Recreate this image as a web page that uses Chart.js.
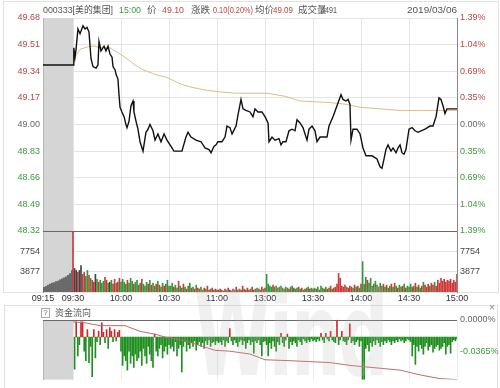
<!DOCTYPE html>
<html><head><meta charset="utf-8">
<script src="https://cdn.jsdelivr.net/npm/chart.js@4/dist/chart.umd.min.js"></script>
<style>
body{margin:0;width:500px;height:388px;background:#fff;overflow:hidden;position:relative;font-family:"Noto Sans CJK SC","Noto Sans",sans-serif;}
canvas{position:absolute;left:0;}
#c1{top:0;}
#c2{top:300px;}
.fr{position:absolute;border:1px solid #e2e2e2;box-sizing:border-box;pointer-events:none;}
.h{position:absolute;top:4px;font-size:9.5px;line-height:12px;white-space:nowrap;color:#555;font-family:"Liberation Sans","Noto Sans CJK SC",sans-serif;transform-origin:0 50%;}
.red{color:#b8473f;}
.grn{color:#3e9a3e;}
#wm{position:absolute;left:194px;top:270px;font-family:"DejaVu Sans",sans-serif;font-weight:bold;font-size:116px;line-height:130px;color:rgba(180,180,180,0.2);transform-origin:0 0;transform:scaleX(0.6);pointer-events:none;letter-spacing:-3px;}
#q{position:absolute;left:41px;top:308px;width:7px;height:8px;border:1px solid #aaa;font-size:8px;line-height:8px;text-align:center;color:#666;font-family:"Liberation Sans",sans-serif;}
#ql{position:absolute;left:55px;top:307px;font-size:9px;line-height:12px;color:#555;}
#cl{position:absolute;left:489px;top:302px;font-size:10px;line-height:12px;color:#888;font-family:"Liberation Sans",sans-serif;}
</style></head>
<body>
<div class="fr" style="left:3px;top:1px;width:496px;height:292px"></div>
<div class="fr" style="left:4px;top:305px;width:494px;height:84px"></div>
<canvas id="c1" width="500" height="305"></canvas>
<canvas id="c2" width="500" height="88"></canvas>
<div id="wm">Wind</div>
<div class="h" style="left:43px" data-w="70">000333[美的集团]</div>
<div class="h grn" style="left:119px" data-w="22">15:00</div>
<div class="h" style="left:147px">价</div>
<div class="h red" style="left:162px" data-w="22">49.10</div>
<div class="h" style="left:191px">涨跌</div>
<div class="h red" style="left:213px" data-w="40">0.10(0.20%)</div>
<div class="h" style="left:255px">均价</div>
<div class="h red" style="left:273px" data-w="20">49.09</div>
<div class="h" style="left:298px">成交量</div>
<div class="h" style="left:321px" data-w="16">4491</div>
<div class="h" style="left:407px" data-w="50">2019/03/06</div>
<div id="q">?</div>
<div id="ql">资金流向</div>
<div id="cl">×</div>
<script>
// ---------- data ----------
const PREV_CLOSE = 49.00;
const timeTicks  = [-18.75, 0, 30, 60, 90, 120, 150, 180, 210, 240]; // minutes from 09:30 (pre-market compressed)
const timeLabels = ['09:15','09:30','10:00','10:30','11:00','13:00','13:30','14:00','14:30','15:00'];
const priceTicks = [48.32, 48.49, 48.66, 48.83, 49.00, 49.17, 49.34, 49.51, 49.68];
const volTicks   = [3877, 7754];
const VOL_MAX    = 11631;
const flowTicks  = [0, -0.0365];

// price (minute, price)
const pricePoints = [[-18.75,49.38],[0,49.38],[0.5,49.49],[1.25,49.43],[1.9,49.48],[3.1,49.61],[4.4,49.58],[6.25,49.63],[7.5,49.61],[8.75,49.62],[10,49.59],[11.25,49.42],[12.5,49.37],[14.4,49.36],[15.6,49.38],[16.25,49.53],[17.5,49.47],[19.4,49.5],[20.6,49.47],[21.9,49.5],[23.1,49.45],[24.4,49.43],[25,49.37],[26.25,49.35],[26.9,49.32],[28.1,49.29],[28.75,49.19],[29.4,49.11],[30.6,49.08],[31.9,49.05],[33.1,49.0],[33.75,48.98],[35,49.02],[36.25,49.12],[37.5,49.15],[38.1,49.08],[39.4,49.02],[40.6,48.97],[41.9,48.89],[43.75,48.83],[45.6,48.95],[46.9,48.97],[48.1,49.0],[50,48.96],[51.25,48.9],[53.1,48.94],[55,48.89],[56.9,48.94],[58.75,48.9],[61.25,48.86],[63.1,48.83],[64.4,48.83],[68.1,48.83],[70.6,48.92],[71.9,48.95],[73.75,48.92],[76.9,48.9],[80,48.89],[82.5,48.85],[85,48.84],[86.25,48.82],[88.1,48.86],[89.4,48.87],[90.6,48.89],[93.1,48.89],[95,48.92],[96.25,48.99],[98.1,48.98],[99.4,48.94],[101.9,48.99],[103.1,49.06],[105,49.16],[106.25,49.1],[108.1,49.09],[110.6,49.08],[112.5,49.05],[113.75,49.1],[115.6,49.08],[118.1,49.08],[120,49.05],[121.9,49.01],[122.5,48.89],[124.4,48.92],[126.25,48.9],[128.75,48.91],[130,48.87],[131.25,48.89],[133.1,48.89],[135,48.96],[136.9,48.97],[138.75,48.96],[140,49.03],[141.9,49.01],[143.75,48.98],[146.25,48.9],[147.5,48.97],[149.4,48.99],[151.25,48.96],[152.5,48.89],[154.4,48.92],[156.25,48.92],[158.75,48.92],[160,48.99],[162.5,49.05],[165,49.12],[167.5,49.19],[168.75,49.16],[170.6,49.15],[171.9,49.16],[173.1,49.13],[173.75,48.9],[175,48.97],[177.5,48.97],[179.4,48.94],[181.25,48.85],[183.1,48.8],[186.9,48.8],[190,48.78],[191.9,48.73],[193.1,48.72],[194.4,48.78],[195.6,48.84],[196.9,48.87],[198.75,48.83],[200,48.85],[201.9,48.82],[203.1,48.85],[204.4,48.87],[205.6,48.82],[206.9,48.81],[208.1,48.84],[210,48.97],[211.9,48.98],[213.75,48.96],[215.6,48.95],[217.5,48.96],[220,48.97],[223.1,48.99],[225,48.99],[226.9,49.05],[228.75,49.17],[230,49.16],[231.25,49.12],[232.5,49.07],[233.75,49.1],[235.6,49.1],[238.75,49.1],[240,49.1]];

// average price (minute, price)
const avgPoints = [[0,49.38],[1.9,49.44],[4.4,49.48],[7.5,49.49],[10.6,49.5],[13.75,49.5],[16.9,49.49],[20,49.49],[23.1,49.49],[26.25,49.47],[29.4,49.45],[33.75,49.42],[38.75,49.38],[43.75,49.35],[51.25,49.32],[58.75,49.3],[66.9,49.26],[73.1,49.24],[82.5,49.22],[90,49.21],[101.25,49.2],[110.6,49.2],[121.25,49.2],[132.5,49.18],[141.9,49.15],[160.6,49.14],[170,49.13],[179.4,49.11],[191.9,49.1],[204.4,49.09],[216.9,49.09],[229.4,49.09],[240,49.09]];

// pre-market volume 09:15-09:29
const preVolumes = [900,1100,1300,1500,1700,1800,2000,2100,2300,2500,2700,2900,3200,3500,4100];
const OPEN_VOL = 11631; // off scale opening auction
// per-minute volumes 09:31 .. 15:00
const volumes = [
 4490,4110,3740,4110,5050,3370,3740,2990,4110,3180,2620,2240,1870,3370,2430,1870,2240,1680,2060,2800,2240,1680,1870,2240,1500,2430,1680,1870,2620,1870,
 2430,1870,1500,2240,1680,2620,2060,1500,1870,2240,1310,1680,2430,1500,1120,1870,1500,2240,1310,1680,1120,1500,2060,1310,940,1680,1120,1500,2240,1120,
 1120,1680,940,1310,750,2060,1120,750,1500,940,560,1120,1680,750,940,560,1310,750,560,940,370,750,560,1120,370,560,750,370,560,370,
 370,560,370,190,560,370,750,370,190,560,370,940,370,560,370,1120,560,370,750,370,560,940,370,560,750,560,370,940,560,750,
 3370,1500,1120,940,1310,940,1120,750,940,1120,750,560,940,750,560,940,1120,750,560,750,940,560,750,370,560,750,940,560,750,560,
 750,560,940,370,1120,750,560,940,560,750,1120,560,750,940,1500,3550,2620,1120,940,1310,940,750,1120,940,750,1310,940,1120,750,1500,
 5800,1500,2800,2240,1680,2620,1120,1500,2060,1310,940,1680,1120,1500,940,1310,750,1120,1500,940,1680,1120,750,1310,940,1120,1500,750,1120,940,
 1500,940,1120,1680,940,1310,750,1120,1870,1310,940,1500,1120,1680,1310,1870,1120,2240,1680,2620,2060,2430,1870,2240,2060,2430,1680,2240,1870,3370];
const volDirs =
 'kkrkkrrggrgrrkgrgggrrgkgrrgrrg' +
 'gggrgggrggrgrgggrgrggrgrggrrgg' +
 'ggrggrggrgrggrgrgrrggrgrrgrgrr' +
 'rrgrrgrkrrgrrgrrgrrrgrrggrrrgr' +
 'ggggrgggrgggrgrggrggrgrgrggrgr' +
 'gggrggrgrgrgrrrrrrrrgrrrgrgrgr' +
 'gggrgggrggrggrgrggrgrgrggrgrgg' +
 'grgrgrgrgrrrgrrgrrrrrrrrrrrrrr';

// fund-flow bars per minute (relative units, + inflow / - outflow)
const flowBars = [
 -34,16,-20,-8,16,16,-15,-25,8,-27,-10,-42,8,-22,-5,6,-8,15,5,-6,8,-12,10,6,-5,8,-4,5,7,-15,
 -30,-20,-25,-35,-15,-28,-20,-32,-18,-25,-22,-15,-30,-12,-20,-28,-10,-18,-25,-32,3,-15,-20,-12,-8,-22,-15,-10,-18,-8,
 -12,-10,-15,-5,-20,-12,-8,-37,-10,-5,-15,-8,-12,-6,-10,-4,-14,-8,-5,-10,-6,-12,-4,-8,-3,-10,-6,-5,-8,-4,
 -6,-5,-8,-3,-10,-4,-6,9,-4,-8,-3,-6,-10,-5,-3,-8,-4,-12,-6,-3,-8,-5,-17,-4,-6,-3,-8,-20,-5,-4,
 -8,-20,-6,-12,-4,-10,-15,-5,-8,4,-6,-10,-3,3,-12,-5,-8,-4,-6,-10,-3,-5,-8,-2,-4,-6,-3,-5,-2,-4,
 -3,-5,-2,-4,4,-3,-6,4,-2,-4,6,-3,-5,-6,18,-8,-3,6,-4,-5,-8,-3,14,-6,-4,-8,-5,-3,-10,-4,
 -48,-48,-12,-8,-15,-6,-10,-4,-8,-3,-6,-10,-5,-8,-4,-6,-3,-5,-8,-4,-6,-3,-5,-2,-4,-3,-6,-4,-2,-3,
 -5,-20,-8,-29,-10,-15,-8,-12,-18,-10,-6,-14,-10,-8,-16,-12,-10,-8,-14,-12,-10,-6,-18,-10,-8,-17,-5,-3,-4,-2];
// cumulative fund flow (%)
const flowLinePoints = [[0,-0.0022],[7.5,-0.0033],[16.9,-0.0066],[26.25,-0.0066],[32.5,-0.0066],[41.9,-0.0133],[51.25,-0.0166],[57.5,-0.0199],[70,-0.0243],[79.4,-0.0299],[88.75,-0.0354],[98.1,-0.0365],[110.6,-0.0398],[120,-0.0465],[135.6,-0.0476],[148.1,-0.0487],[160.6,-0.0498],[173.1,-0.0531],[185.6,-0.0553],[204.4,-0.0586],[216.9,-0.0642],[229.4,-0.0686],[240,-0.0697]];
const FLOW_MIN = -0.0697, FLOW_MAX = 0;
const FLOW_BAR_MIN = -45, FLOW_BAR_MAX = 18;

// ---------- header fitting ----------
document.querySelectorAll('.h[data-w]').forEach(el=>{
  const w = el.getBoundingClientRect().width, t = +el.dataset.w;
  if (w > 0) el.style.transform = 'scaleX(' + (t/w) + ')';
});

// ---------- helpers ----------
const X_MIN = timeTicks[0], X_MAX = timeTicks[timeTicks.length-1];
const PRE_STEP = (0 - X_MIN) / preVolumes.length;
const COL = {r:'#d0393b', g:'#2f9a36', k:'#444'};
const RED_T = '#b8473f', GRN_T = '#3e9a3e', GRY_T = '#666';
const priceCol = v => Math.abs(v-PREV_CLOSE) < 1e-6 ? GRY_T : (v > PREV_CLOSE ? RED_T : GRN_T);
const FONT = {family:'"Liberation Sans", Arial, sans-serif', size:9};

const volData = [], volColors = [];
preVolumes.forEach((v,i)=>{ volData.push({x: X_MIN + PRE_STEP*(i+0.5), y: v}); volColors.push('#555'); });
volData.push({x:0, y:OPEN_VOL}); volColors.push('#d0393b');
volumes.forEach((v,i)=>{ volData.push({x:i+1, y:v}); volColors.push(COL[volDirs[i]]); });

const fixW = w => (s)=>{ s.width = w; };
const setTicks = arr => (s)=>{ s.ticks = arr.map(v=>({value:v})); };

const makeBg = lineFn => ({
  id:'bgpanel',
  beforeDatasetsDraw(chart){
    const {ctx, chartArea:a, scales} = chart;
    const x0 = scales.x.getPixelForValue(0);
    ctx.save();
    ctx.fillStyle = '#d5d5d5';
    ctx.fillRect(a.left+0.5, a.top, x0 - a.left - 0.5, a.bottom - a.top);
    ctx.strokeStyle = '#6a6a6a'; ctx.lineWidth = 1;
    const yb = lineFn(chart);
    ctx.beginPath(); ctx.moveTo(a.left, Math.round(yb)+0.5); ctx.lineTo(a.right, Math.round(yb)+0.5); ctx.stroke();
    ctx.restore();
  }
});

const xAxis = (extra) => Object.assign({type:'linear', min:X_MIN, max:X_MAX, offset:false, afterBuildTicks:setTicks(timeTicks),
  grid:{color:'#e4e4e4', drawTicks:false, offset:false}, border:{display:false}}, extra);

// ---------- main chart ----------
new Chart(document.getElementById('c1'), {
  type:'line',
  data:{datasets:[
    {type:'line', yAxisID:'yP', data: pricePoints.map(([x,y])=>({x,y})), borderColor:'#111', borderWidth:1.4, pointRadius:0, order:1},
    {type:'line', yAxisID:'yP', data: avgPoints.map(([x,y])=>({x,y})), borderColor:'#e0bc88', borderWidth:1, pointRadius:0, order:2},
    {type:'scatter', yAxisID:'yV', data:[{x:0,y:OPEN_VOL}], pointStyle:'circle', pointRadius:1.6, backgroundColor:'#d0393b', borderWidth:0, order:0},
    {type:'bar', yAxisID:'yV', data: volData, backgroundColor: volColors, barThickness:1, order:3}
  ]},
  options:{
    responsive:false, animation:false, events:[],
    layout:{padding:{top:18,left:0,right:0,bottom:0}},
    plugins:{legend:{display:false}, tooltip:{enabled:false}},
    scales:{
      x: xAxis({ticks:{callback:(v,i)=>timeLabels[i], font:FONT, color:'#333', maxRotation:0, autoSkip:false, padding:1},
                afterFit:(s)=>{s.height=13;}}),
      yV:{type:'linear', position:'left', stack:'L', stackWeight:61, min:0, max:VOL_MAX,
          afterBuildTicks:setTicks(volTicks),
          ticks:{callback:v=>String(v), color:'#444', font:FONT, padding:3},
          grid:{color:'#e4e4e4', drawTicks:false}, border:{color:'#999'}, afterFit:fixW(43)},
      yP:{type:'linear', position:'left', stack:'L', stackWeight:213, min:priceTicks[0], max:priceTicks[priceTicks.length-1],
          afterBuildTicks:setTicks(priceTicks),
          ticks:{callback:v=>v.toFixed(2), color:c=>priceCol(c.tick.value), font:FONT, padding:3},
          grid:{color:'#e4e4e4', drawTicks:false}, border:{color:'#999'}, afterFit:fixW(43)},
      yR:{type:'linear', position:'right', stack:'R', stackWeight:213, min:priceTicks[0], max:priceTicks[priceTicks.length-1],
          afterBuildTicks:setTicks(priceTicks),
          ticks:{callback:v=>(Math.abs(v-PREV_CLOSE)/PREV_CLOSE*100).toFixed(2)+'%', color:c=>priceCol(c.tick.value), font:FONT, padding:3},
          grid:{display:false, drawTicks:false}, border:{color:'#888'}, afterFit:fixW(43)},
      yVR:{type:'linear', position:'right', stack:'R', stackWeight:61, min:0, max:VOL_MAX,
          afterBuildTicks:setTicks(volTicks),
          ticks:{callback:v=>String(v), color:'#444', font:FONT, padding:3},
          grid:{display:false, drawTicks:false}, border:{color:'#888'}, afterFit:fixW(43)}
    }
  },
  plugins:[makeBg(c=>c.scales.yP.bottom)]
});

// ---------- fund-flow chart ----------
const flowData = flowBars.map((v,i)=>({x:i+1, y:v}));
const flowColors = flowBars.map(v => v >= 0 ? '#d0262a' : '#1f8f1f');
new Chart(document.getElementById('c2'), {
  type:'bar',
  data:{datasets:[
    {type:'line', yAxisID:'yL', data: flowLinePoints.map(([x,y])=>({x,y})), borderColor:'#c46a6a', borderWidth:1, pointRadius:0, order:0},
    {type:'bar', yAxisID:'yB', data: flowData, backgroundColor: flowColors, barThickness:1, order:1}
  ]},
  options:{
    responsive:false, animation:false, events:[],
    layout:{padding:{top:20,left:0,right:0,bottom:5}},
    plugins:{legend:{display:false}, tooltip:{enabled:false}},
    scales:{
      x: xAxis({ticks:{display:false}, grid:{color:'#ebebeb', drawTicks:false, offset:false}, afterFit:(s)=>{s.height=0;}}),
      yB:{type:'linear', position:'left', min:FLOW_BAR_MIN, max:FLOW_BAR_MAX,
          ticks:{display:false}, grid:{display:false, drawTicks:false}, border:{color:'#999'}, afterFit:fixW(43)},
      yL:{type:'linear', position:'right', min:FLOW_MIN, max:FLOW_MAX, afterBuildTicks:setTicks(flowTicks),
          ticks:{callback:v=>v.toFixed(4)+'%', color:c=>c.tick.value<0?GRN_T:GRY_T, font:FONT, padding:3},
          grid:{display:false, drawTicks:false}, border:{display:false}, afterFit:fixW(43)}
    }
  },
  plugins:[makeBg(c=>c.chartArea.top)]
});
</script>
</body></html>
